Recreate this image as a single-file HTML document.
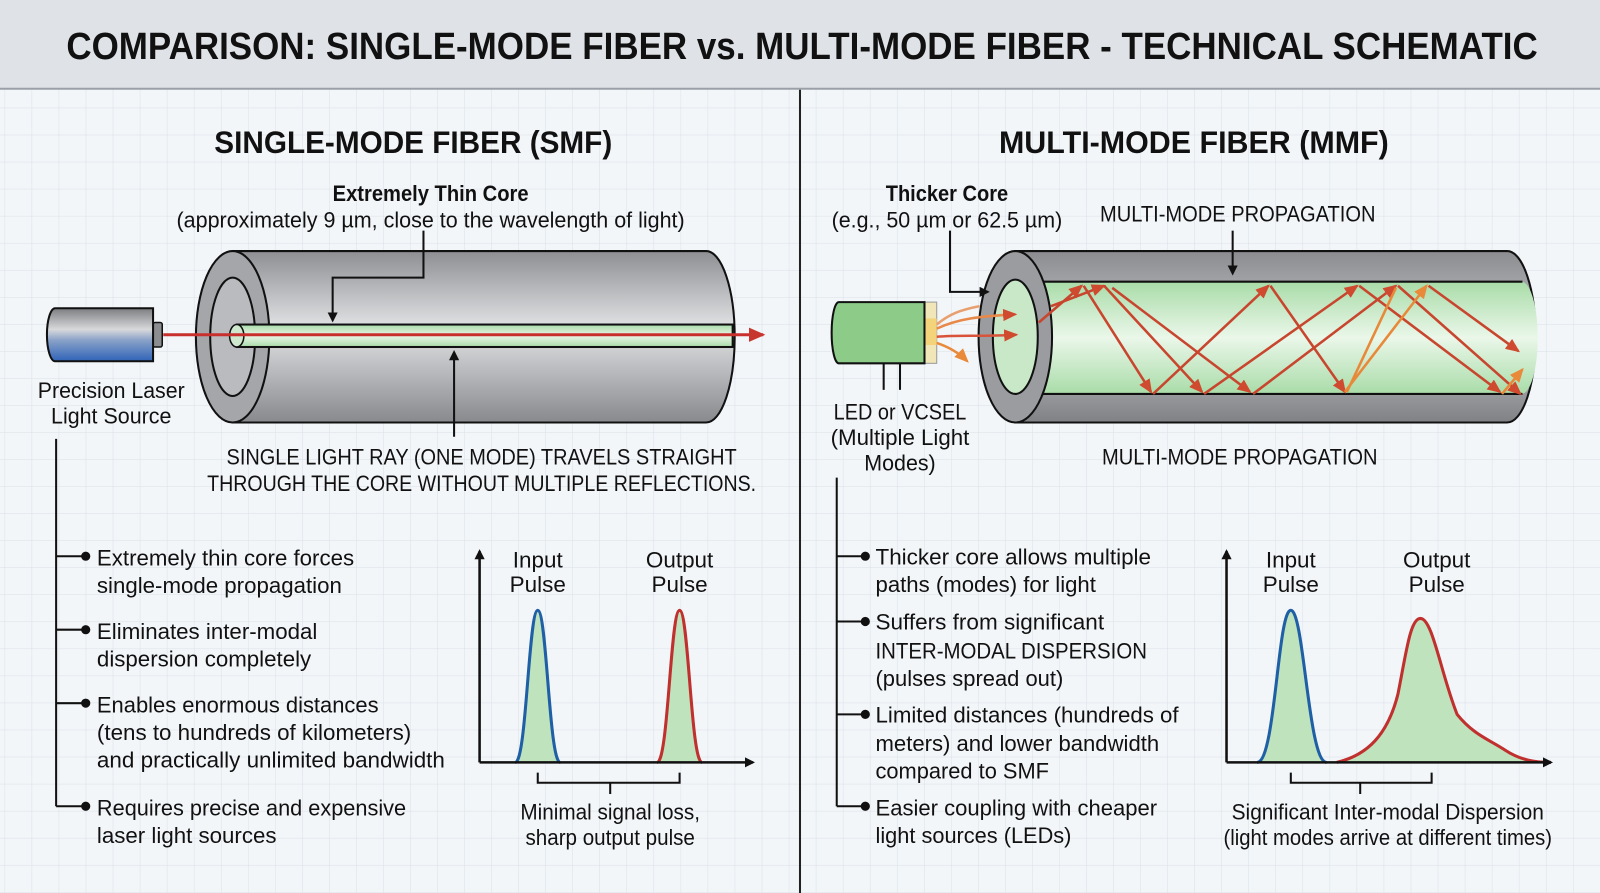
<!DOCTYPE html>
<html><head><meta charset="utf-8"><style>
html,body{margin:0;padding:0;background:#f3f6f9;}
svg{display:block;}
text{font-family:"Liberation Sans Narrow","Liberation Sans",sans-serif;fill:#111;}
.b{font-weight:bold;}
</style></head><body>
<svg width="1600" height="893" viewBox="0 0 1568 875" preserveAspectRatio="none" xmlns="http://www.w3.org/2000/svg">
<defs>
<pattern id="grid" width="26.5" height="26.5" patternUnits="userSpaceOnUse" x="5" y="0">
<path d="M26.5 0V26.5H0" fill="none" stroke="#d9e0e8" stroke-width="1"/>
</pattern>
<linearGradient id="cyl" x1="0" y1="0" x2="0" y2="1">
<stop offset="0" stop-color="#8d8f93"/><stop offset="0.45" stop-color="#e2e3e5"/><stop offset="1" stop-color="#88898d"/>
</linearGradient>
<linearGradient id="cyl2" x1="0" y1="0" x2="0" y2="1">
<stop offset="0" stop-color="#8a8c90"/><stop offset="0.5" stop-color="#c8c9cc"/><stop offset="1" stop-color="#7f8185"/>
</linearGradient>
<linearGradient id="las" x1="0" y1="0" x2="0" y2="1">
<stop offset="0" stop-color="#7b7d80"/><stop offset="0.4" stop-color="#d8d9db"/><stop offset="0.6" stop-color="#8aa2c8"/><stop offset="1" stop-color="#2f63b8"/>
</linearGradient>
<linearGradient id="core" x1="0" y1="0" x2="0" y2="1">
<stop offset="0" stop-color="#a9dca8"/><stop offset="0.5" stop-color="#eaf7e9"/><stop offset="1" stop-color="#a9dca8"/>
</linearGradient>
<marker id="ab" markerWidth="10" markerHeight="10" refX="8" refY="5" orient="auto" markerUnits="userSpaceOnUse"><path d="M0 0L10 5L0 10z" fill="#111"/></marker>
<marker id="ar" markerWidth="16" markerHeight="14" refX="14" refY="7" orient="auto" markerUnits="userSpaceOnUse"><path d="M0 0L16 7L0 14z" fill="#c8372e"/></marker>
<marker id="ao" markerWidth="14" markerHeight="12" refX="12" refY="6" orient="auto" markerUnits="userSpaceOnUse"><path d="M0 0L14 6L0 12z" fill="#cf4a2e"/></marker>
<marker id="ay" markerWidth="14" markerHeight="12" refX="12" refY="6" orient="auto" markerUnits="userSpaceOnUse"><path d="M0 0L14 6L0 12z" fill="#e88a3a"/></marker>
</defs>
<rect width="1568" height="875" fill="#f3f6f9"/>
<rect width="1568" height="875" fill="url(#grid)"/>
<rect width="1568" height="87" fill="#dfe3e8"/>
<line x1="0" y1="87" x2="1568" y2="87" stroke="#9aa0a8" stroke-width="2"/>
<text x="786" y="58" text-anchor="middle" class="b" font-size="37" textLength="1442" lengthAdjust="spacingAndGlyphs">COMPARISON: SINGLE-MODE FIBER vs. MULTI-MODE FIBER - TECHNICAL SCHEMATIC</text>
<line x1="784" y1="88" x2="784" y2="875" stroke="#222" stroke-width="2"/>

<!-- LEFT -->
<text x="405" y="150" text-anchor="middle" class="b" font-size="31" textLength="390" lengthAdjust="spacingAndGlyphs">SINGLE-MODE FIBER (SMF)</text>
<text x="422" y="197" text-anchor="middle" class="b" font-size="22" textLength="192" lengthAdjust="spacingAndGlyphs">Extremely Thin Core</text>
<text x="422" y="223" text-anchor="middle" font-size="22" textLength="498" lengthAdjust="spacingAndGlyphs">(approximately 9 µm, close to the wavelength of light)</text>
<path d="M228 246 H692 A28 84 0 0 1 692 414 H228 Z" fill="url(#cyl)" stroke="#111" stroke-width="2"/>
<ellipse cx="228" cy="330" rx="36" ry="84" fill="#a4a6aa" stroke="#111" stroke-width="2"/>
<ellipse cx="228" cy="330" rx="22" ry="58" fill="#b9bbbe" stroke="#111" stroke-width="2"/>
<rect x="232" y="318" width="486" height="22" fill="url(#core)" stroke="#111" stroke-width="2"/>
<ellipse cx="232" cy="329" rx="7" ry="11" fill="#cfe9cf" stroke="#111" stroke-width="1.5"/>
<rect x="150" y="316" width="9" height="24" rx="2" fill="#8b8d91" stroke="#111" stroke-width="1.5"/>
<path d="M54 302 H150 V354 H54 A8 26 0 0 1 54 302Z" fill="url(#las)" stroke="#111" stroke-width="2"/>
<line x1="160" y1="328" x2="748" y2="328" stroke="#c8302e" stroke-width="3" marker-end="url(#ar)"/>
<polyline points="415,226 415,272 326,272 326,314" fill="none" stroke="#111" stroke-width="2" marker-end="url(#ab)"/>
<line x1="445" y1="428" x2="445" y2="345" stroke="#111" stroke-width="2" marker-end="url(#ab)"/>
<text x="109" y="390" text-anchor="middle" font-size="22" textLength="144" lengthAdjust="spacingAndGlyphs">Precision Laser</text>
<text x="109" y="415" text-anchor="middle" font-size="22" textLength="118" lengthAdjust="spacingAndGlyphs">Light Source</text>
<text x="472" y="455" text-anchor="middle" font-size="22" textLength="500" lengthAdjust="spacingAndGlyphs">SINGLE LIGHT RAY (ONE MODE) TRAVELS STRAIGHT</text>
<text x="472" y="481" text-anchor="middle" font-size="22" textLength="538" lengthAdjust="spacingAndGlyphs">THROUGH THE CORE WITHOUT MULTIPLE REFLECTIONS.</text>
<g stroke="#111" stroke-width="2" fill="#111">
<line x1="55" y1="430" x2="55" y2="790"/>
<line x1="55" y1="545" x2="84" y2="545"/><circle cx="84" cy="545" r="3.5"/>
<line x1="55" y1="617" x2="84" y2="617"/><circle cx="84" cy="617" r="3.5"/>
<line x1="55" y1="689" x2="84" y2="689"/><circle cx="84" cy="689" r="3.5"/>
<line x1="55" y1="790" x2="84" y2="790"/><circle cx="84" cy="790" r="3.5"/>
</g>
<g font-size="22">
<text x="95" y="554" textLength="252" lengthAdjust="spacingAndGlyphs">Extremely thin core forces</text>
<text x="95" y="581" textLength="240" lengthAdjust="spacingAndGlyphs">single-mode propagation</text>
<text x="95" y="626" textLength="216" lengthAdjust="spacingAndGlyphs">Eliminates inter-modal</text>
<text x="95" y="653" textLength="210" lengthAdjust="spacingAndGlyphs">dispersion completely</text>
<text x="95" y="698" textLength="276" lengthAdjust="spacingAndGlyphs">Enables enormous distances</text>
<text x="95" y="725" textLength="308" lengthAdjust="spacingAndGlyphs">(tens to hundreds of kilometers)</text>
<text x="95" y="752" textLength="341" lengthAdjust="spacingAndGlyphs">and practically unlimited bandwidth</text>
<text x="95" y="799" textLength="303" lengthAdjust="spacingAndGlyphs">Requires precise and expensive</text>
<text x="95" y="826" textLength="176" lengthAdjust="spacingAndGlyphs">laser light sources</text>
</g>
<path d="M505 747 C516 747 518 598 527 598 C536 598 538 747 549 747Z" fill="#bfe3bd"/>
<path d="M505 747 C516 747 518 598 527 598 C536 598 538 747 549 747" fill="none" stroke="#1f5fa6" stroke-width="3"/>
<path d="M644 747 C655 747 657 598 666 598 C675 598 677 747 688 747Z" fill="#bfe3bd"/>
<path d="M644 747 C655 747 657 598 666 598 C675 598 677 747 688 747" fill="none" stroke="#c0302e" stroke-width="3"/>
<line x1="470" y1="747" x2="470" y2="540" stroke="#111" stroke-width="2.5" marker-end="url(#ab)"/>
<line x1="470" y1="747" x2="738" y2="747" stroke="#111" stroke-width="2.5" marker-end="url(#ab)"/>
<polyline points="527,757 527,767 666,767 666,757" fill="none" stroke="#111" stroke-width="2"/>
<line x1="598" y1="767" x2="598" y2="778" stroke="#111" stroke-width="2"/>
<g font-size="22" text-anchor="middle">
<text x="527" y="556">Input</text><text x="527" y="580">Pulse</text>
<text x="666" y="556">Output</text><text x="666" y="580">Pulse</text>
<text x="598" y="803" textLength="176" lengthAdjust="spacingAndGlyphs">Minimal signal loss,</text>
<text x="598" y="828" textLength="166" lengthAdjust="spacingAndGlyphs">sharp output pulse</text>
</g>

<!-- RIGHT -->
<text x="1170" y="150" text-anchor="middle" class="b" font-size="31" textLength="382" lengthAdjust="spacingAndGlyphs">MULTI-MODE FIBER (MMF)</text>
<text x="928" y="197" text-anchor="middle" class="b" font-size="22" textLength="120" lengthAdjust="spacingAndGlyphs">Thicker Core</text>
<text x="928" y="223" text-anchor="middle" font-size="22" textLength="226" lengthAdjust="spacingAndGlyphs">(e.g., 50 µm or 62.5 µm)</text>
<text x="1213" y="217" text-anchor="middle" font-size="22" textLength="270" lengthAdjust="spacingAndGlyphs">MULTI-MODE PROPAGATION</text>
<path d="M995 246 H1477 A28 84 0 0 1 1477 414 H995 Z" fill="url(#cyl2)" stroke="#111" stroke-width="2"/>
<path d="M995 276 H1491 A16 55 0 0 1 1491 386 H995 Z" fill="url(#core)"/>
<line x1="995" y1="276" x2="1492" y2="276" stroke="#111" stroke-width="2"/>
<line x1="995" y1="386" x2="1492" y2="386" stroke="#111" stroke-width="2"/>
<ellipse cx="995" cy="330" rx="36" ry="84" fill="#9a9ca0" stroke="#111" stroke-width="2"/>
<ellipse cx="995" cy="330" rx="22" ry="56" fill="#c9e8c8" stroke="#111" stroke-width="2"/>
<line x1="1208" y1="226" x2="1208" y2="268" stroke="#111" stroke-width="2" marker-end="url(#ab)"/>
<polyline points="931,226 931,286 968,286" fill="none" stroke="#111" stroke-width="2" marker-end="url(#ab)"/>
<rect x="906" y="296" width="12" height="60" fill="#f0e6b8" stroke="#999" stroke-width="1"/>
<rect x="906" y="312" width="12" height="26" fill="#f3d47a"/>
<path d="M822 296 H906 V356 H822 A7 30 0 0 1 822 296Z" fill="#8ccb88" stroke="#111" stroke-width="2"/>
<line x1="866" y1="356" x2="866" y2="382" stroke="#111" stroke-width="2"/>
<line x1="882" y1="356" x2="882" y2="382" stroke="#111" stroke-width="2"/>
<g fill="none" stroke-width="2.5">
<path d="M918 322 C940 312 960 310 995 308" stroke="#e8894a" marker-end="url(#ao)"/>
<path d="M918 330 C940 328 960 330 996 328" stroke="#d9533a" marker-end="url(#ao)"/>
<path d="M918 336 C930 340 940 346 948 354" stroke="#e88a3a" marker-end="url(#ay)"/>
<path d="M918 318 C930 308 940 304 960 300" stroke="#e8a070"/>
</g>
<g fill="none" stroke="#c8452e" stroke-width="2.5">
<path d="M1018 316 L1060 280" marker-end="url(#ao)"/>
<path d="M1030 300 L1082 280" marker-end="url(#ao)"/>
<path d="M1062 280 L1128 384" marker-end="url(#ao)"/>
<path d="M1082 280 L1178 384" marker-end="url(#ao)"/>
<path d="M1090 282 L1225 384" marker-end="url(#ao)"/>
<path d="M1130 386 L1243 280" marker-end="url(#ao)"/>
<path d="M1180 386 L1330 280" marker-end="url(#ao)"/>
<path d="M1228 386 L1368 280" marker-end="url(#ao)"/>
<path d="M1245 280 L1318 384" marker-end="url(#ao)"/>
<path d="M1332 280 L1470 384" marker-end="url(#ao)"/>
<path d="M1370 280 L1490 386" marker-end="url(#ao)"/>
<path d="M1400 280 L1488 344" marker-end="url(#ao)"/>
</g>
<g fill="none" stroke="#e8893a" stroke-width="2.5">
<path d="M1318 384 L1398 280" marker-end="url(#ay)"/>
<path d="M1320 384 L1368 282"/>
<path d="M1472 386 L1492 362" marker-end="url(#ay)"/>
</g>
<text x="882" y="411" text-anchor="middle" font-size="22" textLength="130" lengthAdjust="spacingAndGlyphs">LED or VCSEL</text>
<text x="882" y="436" text-anchor="middle" font-size="22" textLength="136" lengthAdjust="spacingAndGlyphs">(Multiple Light</text>
<text x="882" y="461" text-anchor="middle" font-size="22" textLength="70" lengthAdjust="spacingAndGlyphs">Modes)</text>
<text x="1215" y="455" text-anchor="middle" font-size="22" textLength="270" lengthAdjust="spacingAndGlyphs">MULTI-MODE PROPAGATION</text>
<g stroke="#111" stroke-width="2" fill="#111">
<line x1="820" y1="468" x2="820" y2="790"/>
<line x1="820" y1="545" x2="848" y2="545"/><circle cx="848" cy="545" r="3.5"/>
<line x1="820" y1="609" x2="848" y2="609"/><circle cx="848" cy="609" r="3.5"/>
<line x1="820" y1="700" x2="848" y2="700"/><circle cx="848" cy="700" r="3.5"/>
<line x1="820" y1="790" x2="848" y2="790"/><circle cx="848" cy="790" r="3.5"/>
</g>
<g font-size="22">
<text x="858" y="553" textLength="270" lengthAdjust="spacingAndGlyphs">Thicker core allows multiple</text>
<text x="858" y="580" textLength="216" lengthAdjust="spacingAndGlyphs">paths (modes) for light</text>
<text x="858" y="617" textLength="224" lengthAdjust="spacingAndGlyphs">Suffers from significant</text>
<text x="858" y="645" textLength="266" lengthAdjust="spacingAndGlyphs">INTER-MODAL DISPERSION</text>
<text x="858" y="672" textLength="184" lengthAdjust="spacingAndGlyphs">(pulses spread out)</text>
<text x="858" y="708" textLength="297" lengthAdjust="spacingAndGlyphs">Limited distances (hundreds of</text>
<text x="858" y="736" textLength="278" lengthAdjust="spacingAndGlyphs">meters) and lower bandwidth</text>
<text x="858" y="763" textLength="170" lengthAdjust="spacingAndGlyphs">compared to SMF</text>
<text x="858" y="799" textLength="276" lengthAdjust="spacingAndGlyphs">Easier coupling with cheaper</text>
<text x="858" y="826" textLength="192" lengthAdjust="spacingAndGlyphs">light sources (LEDs)</text>
</g>
<path d="M1232 747 C1250 747 1252 598 1265 598 C1278 598 1282 747 1300 747Z" fill="#bfe3bd"/>
<path d="M1232 747 C1250 747 1252 598 1265 598 C1278 598 1282 747 1300 747" fill="none" stroke="#1f5fa6" stroke-width="3"/>
<path d="M1310 747 C1340 740 1360 720 1370 680 C1378 640 1382 606 1392 606 C1404 606 1412 660 1428 700 C1444 720 1460 725 1475 735 C1490 745 1505 747 1520 747Z" fill="#bfe3bd"/>
<path d="M1310 747 C1340 740 1360 720 1370 680 C1378 640 1382 606 1392 606 C1404 606 1412 660 1428 700 C1444 720 1460 725 1475 735 C1490 745 1505 747 1520 747" fill="none" stroke="#c0302e" stroke-width="3"/>
<line x1="1202" y1="747" x2="1202" y2="540" stroke="#111" stroke-width="2.5" marker-end="url(#ab)"/>
<line x1="1202" y1="747" x2="1520" y2="747" stroke="#111" stroke-width="2.5" marker-end="url(#ab)"/>
<polyline points="1265,757 1265,767 1403,767 1403,757" fill="none" stroke="#111" stroke-width="2"/>
<line x1="1333" y1="767" x2="1333" y2="778" stroke="#111" stroke-width="2"/>
<g font-size="22" text-anchor="middle">
<text x="1265" y="556">Input</text><text x="1265" y="580">Pulse</text>
<text x="1408" y="556">Output</text><text x="1408" y="580">Pulse</text>
<text x="1360" y="803" textLength="306" lengthAdjust="spacingAndGlyphs">Significant Inter-modal Dispersion</text>
<text x="1360" y="828" textLength="322" lengthAdjust="spacingAndGlyphs">(light modes arrive at different times)</text>
</g>
</svg>
</body></html>
